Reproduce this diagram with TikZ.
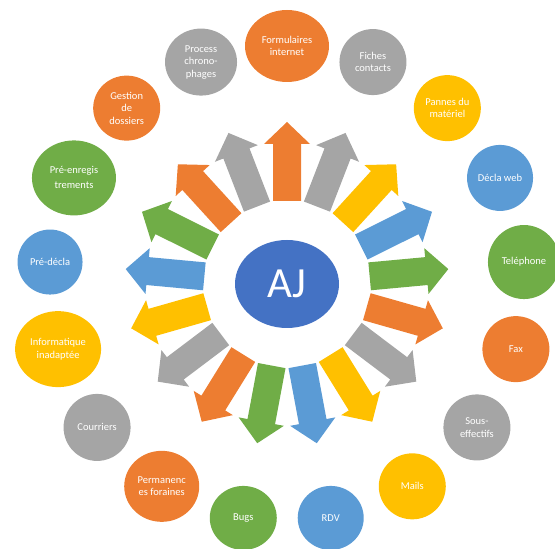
\documentclass[tikz,border=0pt]{standalone}
\usepackage{fontspec}
\setmainfont{Carlito}
\usetikzlibrary{shapes.geometric}

\definecolor{c0}{HTML}{ED7D31}
\definecolor{c1}{HTML}{A5A5A5}
\definecolor{c2}{HTML}{FFC000}
\definecolor{c3}{HTML}{5B9BD5}
\definecolor{c4}{HTML}{70AD47}
\definecolor{ajblue}{HTML}{4472C4}

\begin{document}
\begin{tikzpicture}[x=1pt,y=1pt,
    bubble/.style={ellipse, text=white, align=center, inner sep=0pt,
        font=\fontsize{10.5}{12.5}\selectfont}]
\useasboundingbox (0,0) rectangle (555,549);

\begin{scope}[shift={(287,265)}]
    \node[ellipse, fill=ajblue, minimum width=104pt, minimum height=88pt, text=white,
        font=\fontsize{43}{43}\selectfont] (aj) at (0,0) {AJ};

    % rays
    \foreach \i in {0,...,16}{
        \pgfmathsetmacro\ang{90-\i*360/17}
        \pgfmathtruncatemacro\k{mod(\i,5)}
        \fill[c\k, rotate=\ang] (83,-14) -- (140,-14) -- (140,-23) -- (162,0)
            -- (140,23) -- (140,14) -- (83,14) -- cycle;
    }

    % bubbles
    \foreach \i/\nm/\w/\h/\txt in {
        0/form/84/72/{Formulaires\\internet},
        1/fiches/67/66/{Fiches\\contacts},
        2/pannes/67/66/{Pannes du\\matériel},
        3/declaweb/66/66/{Décla web},
        4/tel/72/74/{Teléphone},
        5/fax/67/66/{Fax},
        6/sous/67/66/{Sous-\\effectifs},
        7/mails/67/66/{Mails},
        8/rdv/66/64/{RDV},
        9/bugs/67/64/{Bugs},
        10/perm/75/71/{Permanenc\\es foraines},
        11/courr/67/67/{Courriers},
        12/info/86/76/{Informatique\\inadaptée},
        13/predecla/65/65/{Pré-décla},
        14/preenr/84/75/{Pré-enregis\\[2.5pt]trements},
        15/gestion/67/65/{Gestion\\de\\dossiers},
        16/process/72/67/{Process\\chrono-\\phages}}{
        \pgfmathsetmacro\ang{90-\i*360/17}
        \pgfmathtruncatemacro\k{mod(\i,5)}
        \node[bubble, fill=c\k, minimum width=\w pt, minimum height=\h pt] (\nm) at (\ang:238) {\txt};
    }
\end{scope}
\end{tikzpicture}
\end{document}
